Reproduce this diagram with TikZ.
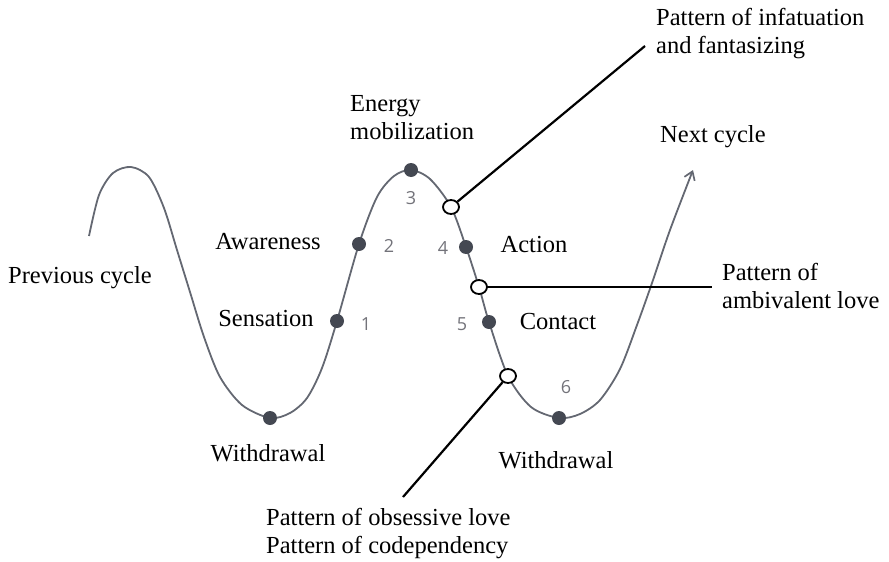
\documentclass[tikz,border=0pt]{standalone}
\usepackage{fontspec}
\setmainfont{Liberation Serif}
\newfontfamily\numfont{Open Sans}
\usetikzlibrary{arrows.meta,shapes.geometric}
\definecolor{curvegray}{RGB}{100,104,114}
\definecolor{dotgray}{RGB}{68,72,82}
\definecolor{numgray}{RGB}{115,115,122}
\begin{document}
\begin{tikzpicture}[x=1pt,y=-1pt,
  lbl/.style={font=\fontsize{24.5}{28}\selectfont, inner sep=0pt, align=left},
  num/.style={font=\numfont\fontsize{18}{20}\selectfont, text=numgray, inner sep=0pt},
  stage/.style={circle, fill=dotgray, minimum size=14pt, inner sep=0pt},
  pat/.style={ellipse, draw=black, line width=1.8pt, fill=white, minimum width=16pt, minimum height=14pt, inner sep=0pt},
  lead/.style={black, line width=2.2pt},
  wave/.style={curvegray, line width=1.8pt}]
\useasboundingbox (0,0) rectangle (889,562);
% the wave
\draw[wave, -{Straight Barb[length=8pt,width=11pt,line width=1.7pt]}]
  plot[smooth, tension=0.5] coordinates {
  (89,236) (99,195) (113,173) (131,167) (149,177) (164,208) (177,250)
  (190,292) (204,337) (220,377) (242,405) (270,418) (290,413) (307,398)
  (322,368) (337,321) (359,244) (377,197) (394,176) (411,170) (430,179)
  (451,207) (466,247) (479,287) (489,322) (508,376) (531,407) (559,418)
  (580,414) (600,400) (620,369) (637,325) (652,283) (670,230) (693,170)};
% stage dots
\node[stage] (w1) at (270,418) {};
\node[stage] (s1) at (337,321) {};
\node[stage] (s2) at (359,244) {};
\node[stage] (s3) at (411,170) {};
\node[stage] (s4) at (466,247) {};
\node[stage] (s5) at (489,322) {};
\node[stage] (s6) at (559,418) {};
% pattern markers
\node[pat] (pA) at (451,207) {};
\node[pat] (pB) at (479,287) {};
\node[pat] (pC) at (508,376) {};
% numbers
\node[num] (n1) at (366,324) {1};
\node[num] (n2) at (389,246) {2};
\node[num] (n3) at (411,198) {3};
\node[num] (n4) at (443,248) {4};
\node[num] (n5) at (462,324) {5};
\node[num] (n6) at (566,387) {6};
% labels
\node[lbl, anchor=west] (prev) at (8,278) {Previous cycle};
\node[lbl, anchor=west] (energy) at (350,118) {Energy\\mobilization};
\node[lbl] (aware) at (268,242) {Awareness};
\node[lbl] (sens) at (266,319) {Sensation};
\node[lbl] (wd1) at (268,453) {Withdrawal};
\node[lbl] (wd2) at (556,460) {Withdrawal};
\node[lbl] (act) at (534,245) {Action};
\node[lbl] (cont) at (558,322) {Contact};
\node[lbl, anchor=west] (next) at (660,137) {Next cycle};
\node[lbl, anchor=west] (tA) at (656,34) {Pattern of infatuation\\and fantasizing};
\node[lbl, anchor=west] (tB) at (722,286) {Pattern of\\ambivalent love};
\node[lbl, anchor=west] (tC) at (266,534) {Pattern of obsessive love\\Pattern of codependency};
% leaders
\coordinate (eA) at (645,46);
\coordinate (eB) at (712,287);
\coordinate (eC) at (403,497);
\draw[lead] (pA) -- (eA);
\draw[lead] (pB) -- (eB);
\draw[lead] (pC) -- (eC);
\end{tikzpicture}
\end{document}
